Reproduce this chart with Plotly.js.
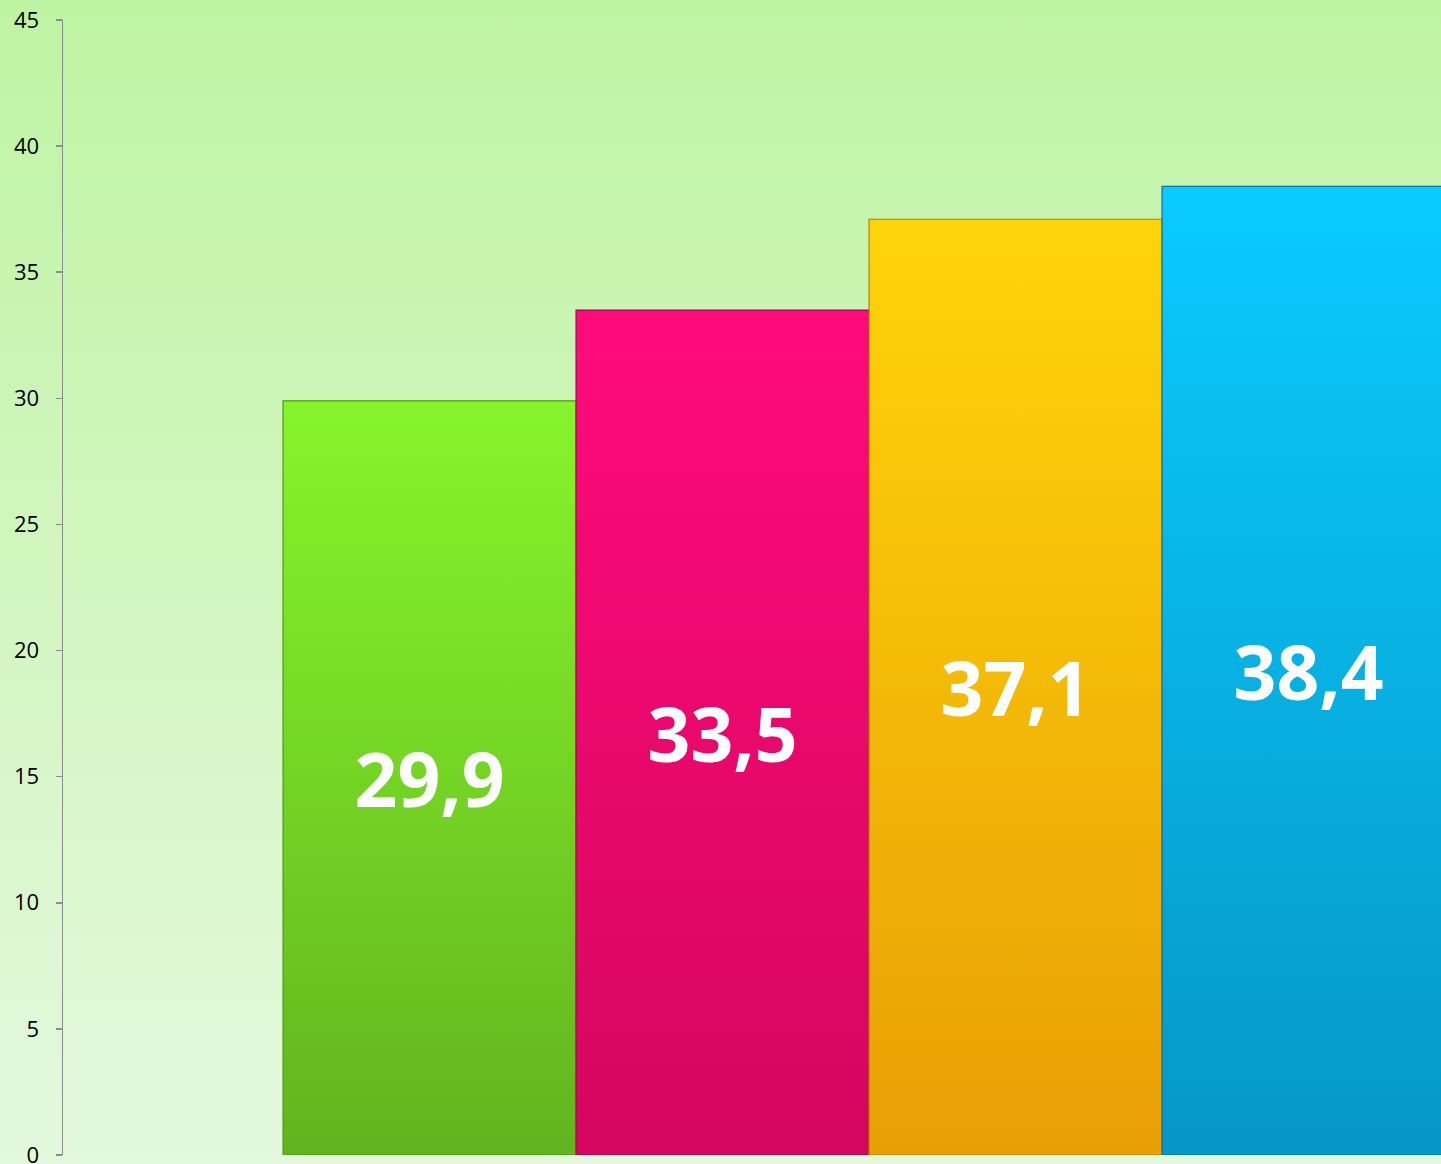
<!DOCTYPE html>
<html>
<head>
<meta charset="utf-8">
<script src="https://cdn.plot.ly/plotly-3.0.1.min.js"></script>
<style>
  html, body { margin: 0; padding: 0; }
  body { width: 1441px; height: 1164px; background: linear-gradient(to bottom, #bdf4a2 0%, #d2f6c0 50%, #e3f8dd 100%); overflow: hidden; }
  #chart { width: 1441px; height: 1164px; }
</style>
</head>
<body>
<div id="chart"></div>
<script>
const categories = ["A", "B", "C", "D"];
const values = [29.9, 33.5, 37.1, 38.4];
const barColors = ["#78e426", "#f0086f", "#fbc00a", "#07b6ec"];
const gradTop = ["#86f52b", "#ff0a7c", "#ffd40a", "#0acbff"];
const gradBottom = ["#62b41e", "#d4065e", "#e89f05", "#0597c6"];
const edgeColors = ["#4f9a14", "#a8044a", "#b97f02", "#04749a"];
const tickVals = [0, 5, 10, 15, 20, 25, 30, 35, 40, 45];

const trace = {
  type: "bar",
  x: categories.map((c, i) => i),
  y: values,
  width: 1,
  marker: { color: barColors, line: { color: edgeColors, width: 1.2 } },
  texttemplate: "%{y:.1f}",
  textposition: "inside",
  insidetextanchor: "middle",
  textangle: 0,
  constraintext: "none",
  textfont: { family: "Open Sans, sans-serif", size: 75, color: "#ffffff", weight: 700 },
  hoverinfo: "none"
};

const layout = {
  width: 1441, height: 1164,
  margin: { l: 63, r: 0, t: 20, b: 9 },
  paper_bgcolor: "rgba(0,0,0,0)",
  plot_bgcolor: "rgba(0,0,0,0)",
  separators: ",.",
  showlegend: false,
  bargap: 0,
  xaxis: { range: [-1.251, 3.452], visible: false, fixedrange: true },
  yaxis: {
    range: [0, 45], tickvals: tickVals, showgrid: false, zeroline: false,
    showline: true, linecolor: "#8c8c8c", linewidth: 1.5,
    ticks: "outside", ticklen: 6, tickcolor: "#8c8c8c", tickwidth: 1.5,
    ticklabelstandoff: 12,
    ticklabeloverflow: "allow",
    tickfont: { family: "Open Sans, sans-serif", size: 22, color: "#000000" },
    fixedrange: true
  }
};

Plotly.newPlot("chart", [trace], layout, { displayModeBar: false, staticPlot: true }).then(gd => {
  const svg = gd.querySelector("svg.main-svg");
  let defs = svg.querySelector("defs");
  const ns = "http://www.w3.org/2000/svg";
  const paths = gd.querySelectorAll(".trace.bars .point path");
  paths.forEach((p, i) => {
    const g = document.createElementNS(ns, "linearGradient");
    g.setAttribute("id", "bargrad" + i);
    g.setAttribute("x1", "0"); g.setAttribute("y1", "0");
    g.setAttribute("x2", "0"); g.setAttribute("y2", "1");
    const s1 = document.createElementNS(ns, "stop");
    s1.setAttribute("offset", "0"); s1.setAttribute("stop-color", gradTop[i]);
    const s2 = document.createElementNS(ns, "stop");
    s2.setAttribute("offset", "1"); s2.setAttribute("stop-color", gradBottom[i]);
    g.appendChild(s1); g.appendChild(s2);
    defs.appendChild(g);
    p.style.fill = "url(#bargrad" + i + ")";
  });
});
</script>
</body>
</html>
